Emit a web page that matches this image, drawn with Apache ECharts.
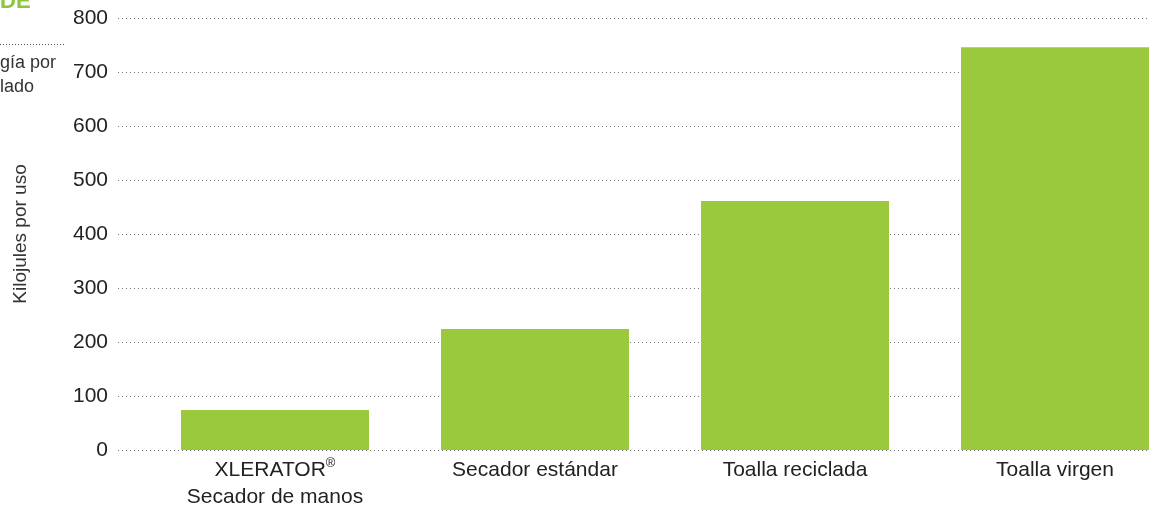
<!DOCTYPE html>
<html>
<head>
<meta charset="utf-8">
<script src="https://cdn.jsdelivr.net/npm/echarts@6/dist/echarts.min.js"></script>
<style>
  html, body { margin: 0; padding: 0; background: #fff; }
  #chart { width: 1156px; height: 512px; }
</style>
</head>
<body>
<div id="chart"></div>
<script>
// datos
var categorias = ["XLERATOR{sup|®}\nSecador de manos", "Secador estándar", "Toalla reciclada", "Toalla virgen"];
var kilojules = [74, 224, 461, 746];
var ticksY = [0, 100, 200, 300, 400, 500, 600, 700, 800];

var fuente = "Liberation Sans";
var chart = echarts.init(document.getElementById("chart"));

var option = {
  animation: false,
  textStyle: { fontFamily: fuente },
  grid: [
    // rejilla de fondo (lineas punteadas + eje y)
    { left: 118, right: 8, top: 18, bottom: 62, outerBoundsMode: "none" },
    // rejilla de las barras
    { left: 145, width: 1040, top: 18, bottom: 62, outerBoundsMode: "none" }
  ],
  xAxis: [
    { gridIndex: 0, type: "category", data: categorias, show: false },
    {
      gridIndex: 1,
      type: "category",
      data: categorias,
      axisLine: { show: false },
      axisTick: { show: false },
      axisLabel: {
        color: "#222",
        fontSize: 21,
        lineHeight: 27,
        margin: 7,
        fontFamily: fuente,
        rich: {
          sup: { fontSize: 13, verticalAlign: "top", lineHeight: 27, padding: [0, 0, 9, 0], color: "#222" }
        }
      }
    }
  ],
  yAxis: [
    {
      gridIndex: 0,
      type: "value",
      min: ticksY[0],
      max: ticksY[ticksY.length - 1],
      interval: 100,
      name: "Kilojules por uso",
      nameLocation: "middle",
      nameGap: 88,
      nameTextStyle: { color: "#333", fontSize: 19, fontFamily: fuente },
      axisLine: { show: false },
      axisTick: { show: false },
      axisLabel: { color: "#222", fontSize: 21, margin: 10, fontFamily: fuente },
      splitLine: { show: true, lineStyle: { color: "#777", type: [1, 3], width: 1 } }
    },
    {
      gridIndex: 1,
      type: "value",
      min: 0,
      max: 800,
      interval: 100,
      show: false
    }
  ],
  series: [
    {
      type: "bar",
      xAxisIndex: 1,
      yAxisIndex: 1,
      data: kilojules,
      barWidth: 188,
      itemStyle: { color: "#9bc93e" }
    }
  ],
  graphic: [
    {
      type: "text",
      left: 0,
      top: -9,
      style: { text: "DE", fill: "#8cc63f", font: "bold 22px " + fuente }
    },
    {
      type: "line",
      shape: { x1: 0, y1: 44.5, x2: 65, y2: 44.5 },
      style: { stroke: "#555", lineWidth: 1, lineDash: [1, 2] }
    },
    {
      type: "text",
      left: 0,
      top: 54,
      style: { text: "gía por", fill: "#333", font: "18px " + fuente }
    },
    {
      type: "text",
      left: 0,
      top: 78,
      style: { text: "lado", fill: "#333", font: "18px " + fuente }
    }
  ]
};

chart.setOption(option);
</script>
</body>
</html>
